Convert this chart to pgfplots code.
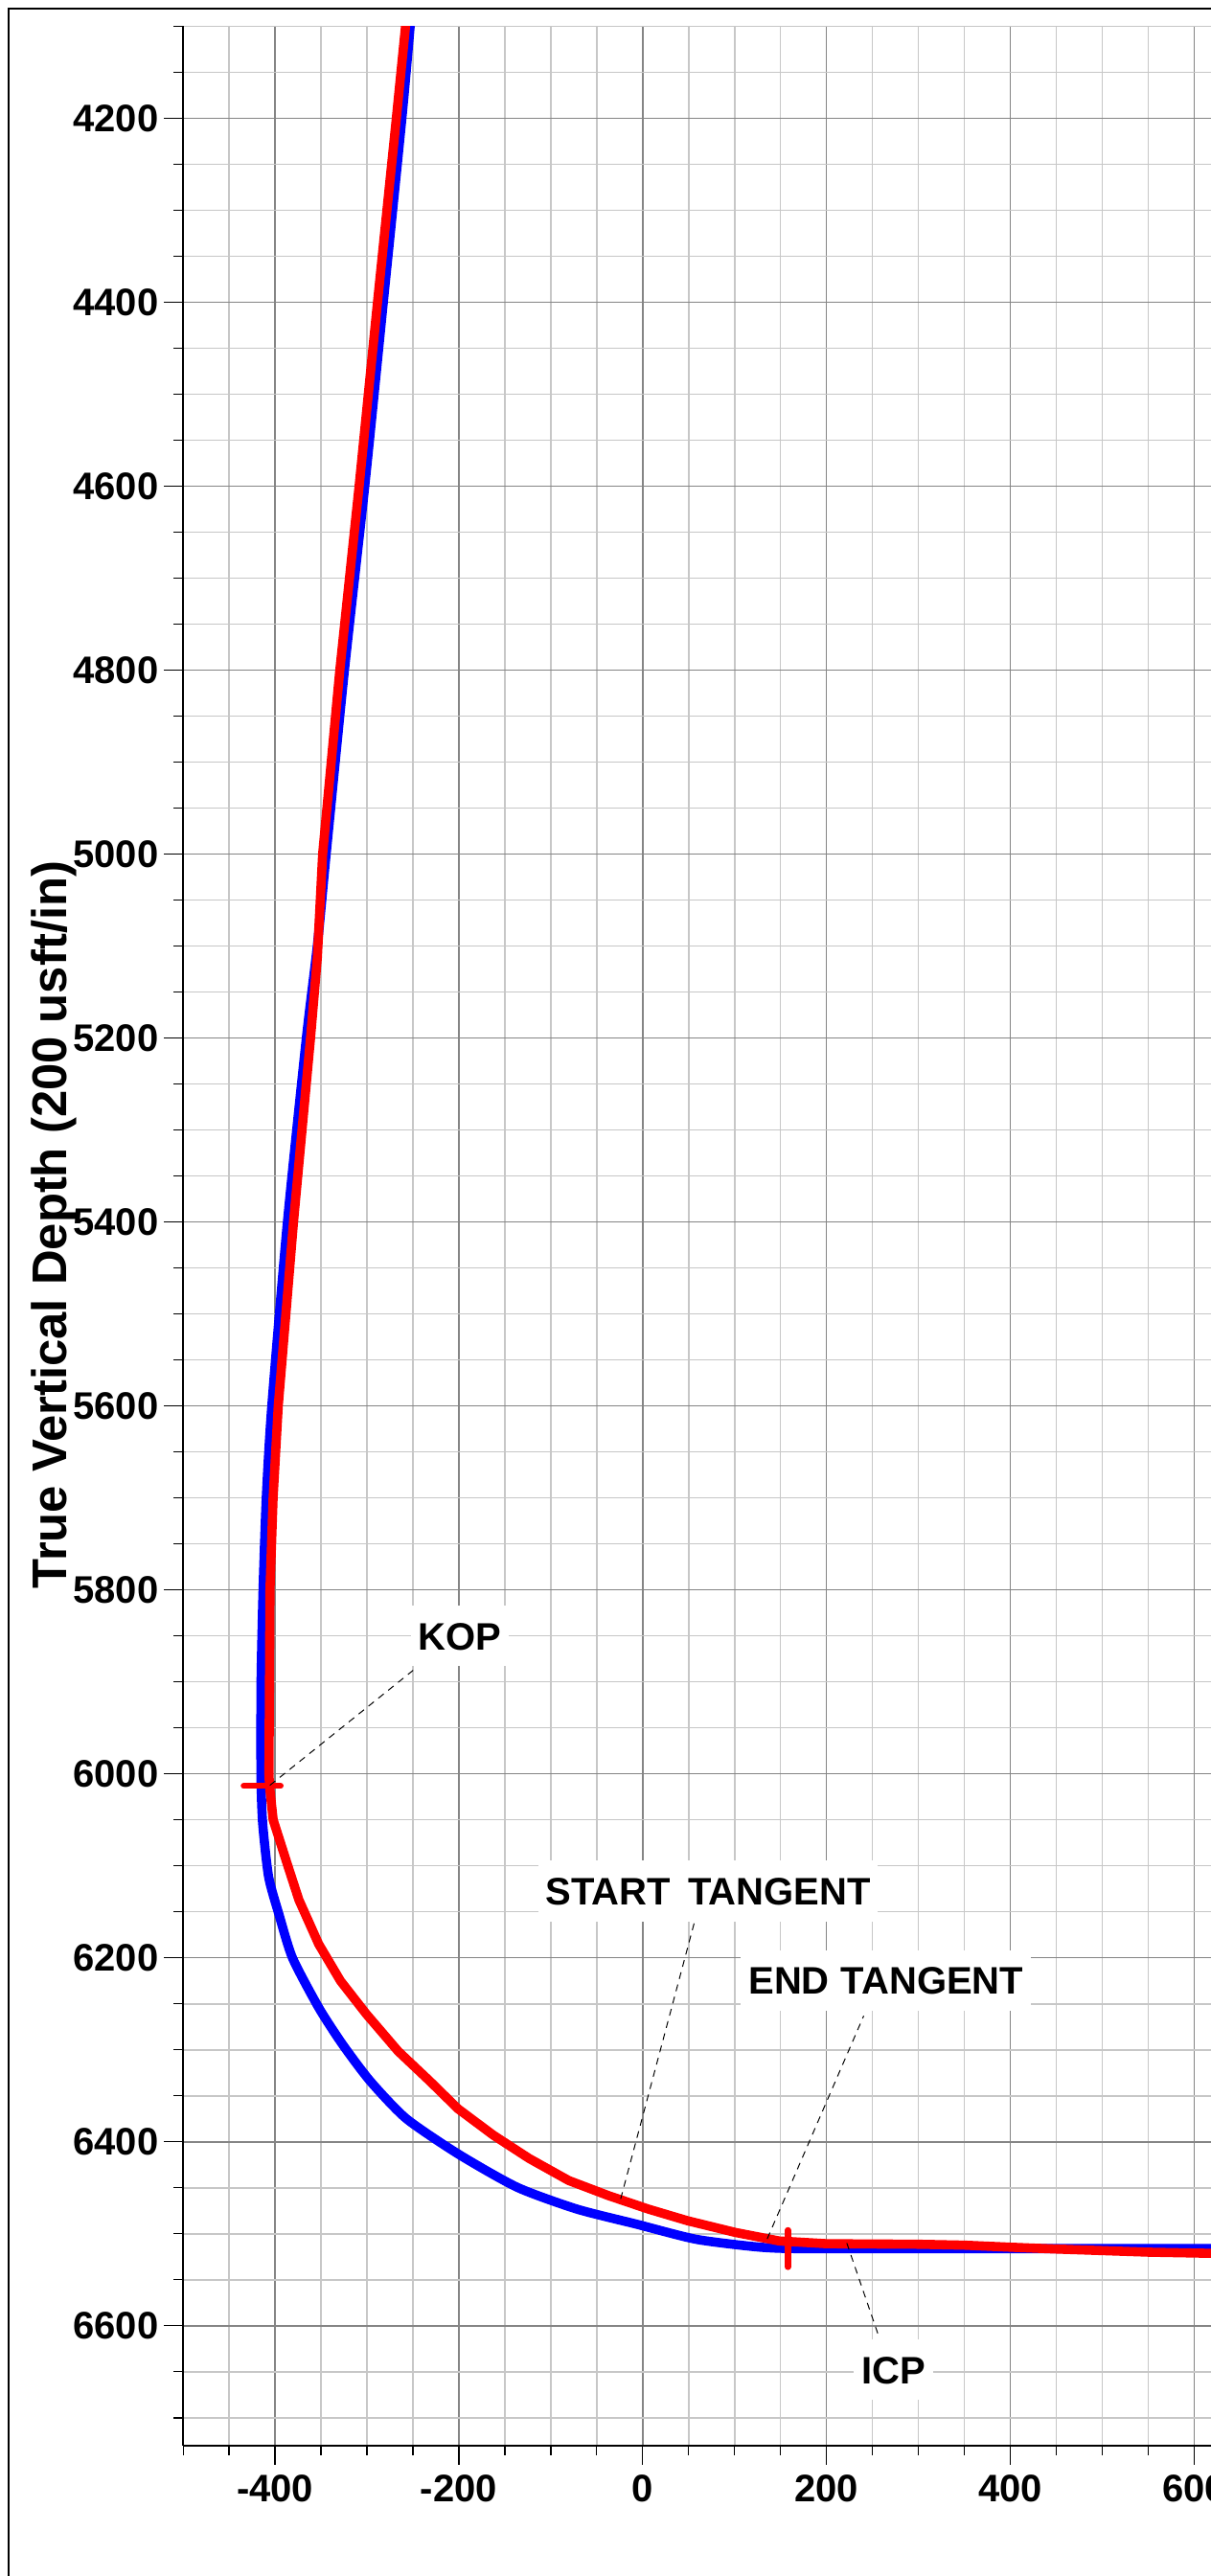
\documentclass[border=0pt]{standalone}
\usepackage{fontspec}
\setmainfont{Liberation Sans}
\usepackage{pgfplots}
\pgfplotsset{compat=1.18}

\begin{document}
\begin{tikzpicture}[
  annot/.style={fill=white, font=\fontsize{10}{12}\selectfont\bfseries,
    inner xsep=2pt, inner ysep=4.3pt, text height=7.2pt, text depth=0pt},
  leader/.style={black, line width=0.25pt, dash pattern=on 1.8pt off 1.5pt}]
\begin{axis}[
  name=ax,
  scale only axis,
  width=268.66pt, height=631.35pt,
  xmin=-500, xmax=620,
  ymin=4100, ymax=6730,
  y dir=reverse,
  axis x line*=bottom, axis y line*=left,
  x axis line style={-, line width=0.5pt},
  y axis line style={-, line width=0.4pt},
  xtick={-400,-200,0,200,400,600},
  xticklabels={-400,-200,0,200,400,600},
  minor xtick={-500,-450,...,600},
  ytick={4200,4400,...,6600},
  yticklabels={4200,4400,4600,4800,5000,5200,5400,5600,5800,6000,6200,6400,6600},
  minor ytick={4100,4150,...,6700},
  grid=both,
  major grid style={color=black!48, line width=0.35pt},
  minor grid style={color=black!22, line width=0.35pt},
  tick align=outside,
  major tick length=5pt, minor tick length=2.5pt,
  tick style={black, line width=0.3pt},
  tick label style={font=\fontsize{10}{12}\selectfont\bfseries},
  xticklabel style={inner sep=0pt, anchor=north, yshift=-2.6pt},
  yticklabel style={inner sep=0pt, anchor=east, xshift=-1.25pt},
]
% blue well path
\addplot[blue, line width=2.4pt, line join=round, line cap=round, smooth, tension=0.4] coordinates {
(-253,4100) (-262,4200) (-282.2,4400) (-302.4,4600) (-324.5,4800)
(-344.4,5000) (-354,5100) (-365.9,5200) (-386.5,5400) (-403.5,5600)
(-409.5,5700) (-413,5800) (-415.2,5900) (-415.3,6000) (-413.5,6053)
(-407,6111.7) (-396,6151.8) (-381,6200) (-352.5,6254) (-326.6,6294)
(-296.4,6334) (-257.5,6374.5) (-201,6413) (-136.7,6449.3) (-71.8,6473)
(-7,6489.4) (57.6,6505.8) (122.5,6514) (165.6,6516) (300,6516) (620,6516)};
% red well path
\addplot[red, line width=2.4pt, line join=round, line cap=round] coordinates {
(-258,4100) (-268,4200) (-288.5,4400) (-308.5,4600) (-329.5,4800)
(-348.2,5000) (-354,5113) (-361.4,5200) (-379.9,5400) (-396.5,5600)
(-402.1,5700) (-405.5,5800) (-406.6,6000) (-406,6013) (-402,6050)
(-387,6097) (-374,6137) (-352.5,6185) (-328.8,6225) (-300.7,6261)
(-266,6301.5) (-231.6,6334) (-201,6364) (-162.5,6392.7) (-123.6,6418)
(-80.5,6442) (-37.3,6458.4) (5.9,6473) (49,6485.8) (101,6498.5)
(148.4,6507.7) (200,6510.7) (300,6511.3) (350,6512.3) (400,6514.5)
(450,6516.5) (500,6518.2) (550,6519.9) (620,6521.2)};
% markers
\addplot[red, line width=1.6pt, line cap=round] coordinates {(-434,6013) (-394,6013)};
\addplot[red, line width=1.6pt, line cap=round] coordinates {(158,6496) (158,6536)};
% leaders
\draw[leader] (axis cs:-405.6,6012.4) -- (axis cs:-249.8,5887.4);
\draw[leader] (axis cs:-24,6462) -- (axis cs:55.9,6162.4);
\draw[leader] (axis cs:135.4,6505.5) -- (axis cs:240.4,6263);
\draw[leader] (axis cs:222,6510) -- (axis cs:256.3,6610);
% labels
\node[annot] at (axis cs:-199,5850.1) {KOP};
\node[annot] at (axis cs:71.1,6127.4) {START\hspace{0.45em}TANGENT};
\node[annot] at (axis cs:264.7,6224.3) {END\hspace{0.3em}TANGENT};
\node[annot] at (axis cs:272.7,6647.8) {ICP};
\coordinate (ylab) at (axis cs:-500,5403);
\coordinate (bl) at (axis cs:-500,6730);
\end{axis}
% y label
\node[rotate=90, anchor=base, font=\fontsize{12.7}{15}\selectfont\bfseries, inner sep=0pt]
  at ([xshift=-30.3pt]ylab) {True Vertical Depth (200 usft/in)};
\pgfresetboundingbox
\path[use as bounding box] ([shift={(-47.78pt,-34.08pt)}]bl) rectangle ++(316pt,672.25pt);
\draw[black, line width=0.5pt] ([shift={(-45.53pt,-60pt)}]bl) |- ([shift={(400pt,635.92pt)}]bl);
\end{tikzpicture}
\end{document}
